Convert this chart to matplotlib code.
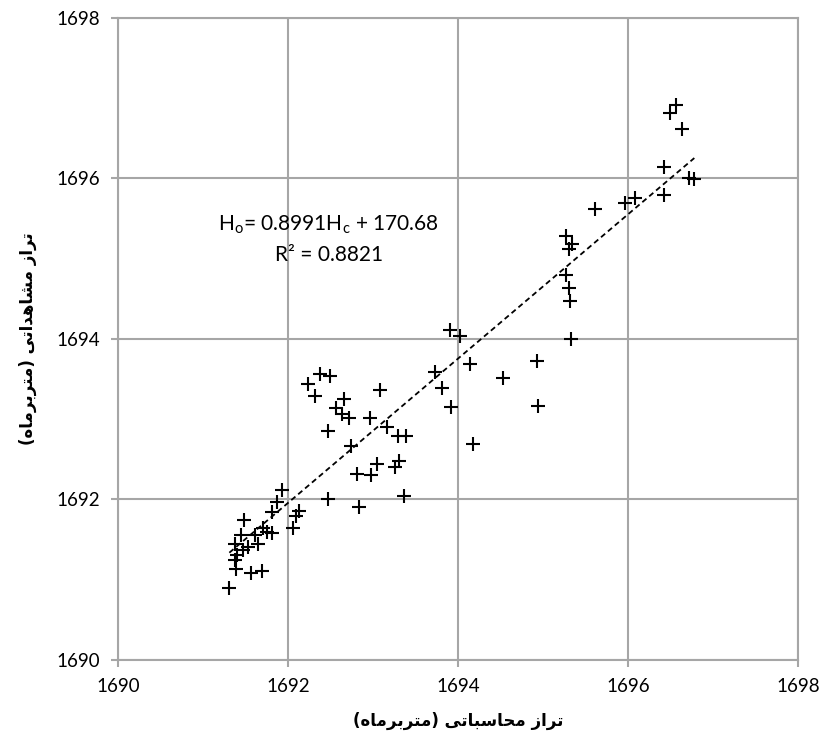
import matplotlib
matplotlib.use('Agg')
import matplotlib.pyplot as plt
import numpy as np

# ---------------- data ----------------
h_calc = [1691.93, 1691.87, 1692.47, 1691.81, 1692.13, 1692.10, 1692.06, 1691.48,
          1691.71, 1691.75, 1691.81, 1691.45, 1691.61, 1691.38, 1691.53, 1691.65,
          1691.47, 1691.40, 1691.38, 1691.39, 1691.57, 1691.70, 1691.31,
          1693.91, 1694.02, 1695.33, 1694.14, 1694.93, 1693.73, 1694.53, 1693.81,
          1694.94, 1693.92, 1694.18, 1692.38, 1692.49, 1692.24, 1692.32, 1693.08,
          1692.66, 1692.56, 1692.63, 1692.72, 1692.97, 1692.47, 1693.16, 1693.29,
          1693.39, 1692.74, 1693.05, 1693.30, 1693.26, 1692.81, 1692.98, 1693.36,
          1692.83,
          1696.56, 1696.49, 1696.63, 1696.42, 1696.72, 1696.78, 1696.42, 1696.08,
          1695.96, 1695.61, 1695.27, 1695.34, 1695.31, 1695.27, 1695.31, 1695.32]
h_obs = [1692.12, 1691.97, 1692.01, 1691.84, 1691.86, 1691.79, 1691.64, 1691.75,
         1691.64, 1691.60, 1691.58, 1691.56, 1691.56, 1691.45, 1691.41, 1691.45,
         1691.37, 1691.31, 1691.25, 1691.13, 1691.09, 1691.11, 1690.90,
         1694.11, 1694.04, 1694.00, 1693.69, 1693.73, 1693.59, 1693.52, 1693.39,
         1693.16, 1693.15, 1692.69, 1693.56, 1693.54, 1693.44, 1693.29, 1693.36,
         1693.25, 1693.14, 1693.07, 1693.02, 1693.02, 1692.85, 1692.90, 1692.79,
         1692.79, 1692.67, 1692.44, 1692.48, 1692.40, 1692.32, 1692.30, 1692.04,
         1691.91,
         1696.92, 1696.81, 1696.62, 1696.14, 1696.01, 1695.99, 1695.79, 1695.76,
         1695.69, 1695.62, 1695.28, 1695.18, 1695.12, 1694.80, 1694.64, 1694.47]

slope = 0.8991
intercept = 170.68
r2 = 0.8821
ticks = [1690, 1692, 1694, 1696, 1698]

xlabel_fa = 'تراز محاسباتی (متربرماه)'
ylabel_fa = 'تراز مشاهداتی (متربرماه)'

# ---------- small persian shaper (matplotlib has no RTL shaping) ----------
# forms: isolated, final, initial, medial
FORMS = {
    'ا': ('\uFE8D', '\uFE8E', None, None),
    'ب': ('\uFE8F', '\uFE90', '\uFE91', '\uFE92'),
    'ت': ('\uFE95', '\uFE96', '\uFE97', '\uFE98'),
    'ح': ('\uFEA1', '\uFEA2', '\uFEA3', '\uFEA4'),
    'د': ('\uFEA9', '\uFEAA', None, None),
    'ر': ('\uFEAD', '\uFEAE', None, None),
    'ز': ('\uFEAF', '\uFEB0', None, None),
    'س': ('\uFEB1', '\uFEB2', '\uFEB3', '\uFEB4'),
    'ش': ('\uFEB5', '\uFEB6', '\uFEB7', '\uFEB8'),
    'م': ('\uFEE1', '\uFEE2', '\uFEE3', '\uFEE4'),
    'ه': ('\uFEE9', '\uFEEA', '\uFEEB', '\uFEEC'),
    'ی': ('\uFEEF', '\uFEF0', '\uFEF3', '\uFEF4'),
}


def shape_fa(s):
    out = []
    for i, ch in enumerate(s):
        if ch not in FORMS:
            out.append(ch)
            continue
        prev = s[i - 1] if i > 0 else ''
        nxt = s[i + 1] if i + 1 < len(s) else ''
        join_prev = prev in FORMS and FORMS[prev][2] is not None
        join_next = FORMS[ch][2] is not None and nxt in FORMS
        f = FORMS[ch]
        if join_prev and join_next:
            out.append(f[3])
        elif join_prev:
            out.append(f[1])
        elif join_next:
            out.append(f[2])
        else:
            out.append(f[0])
    vis = ''.join(reversed(out))
    return vis.translate(str.maketrans('()', ')('))


plt.rcParams['font.family'] = ['Lato', 'DejaVu Sans']

fig = plt.figure(figsize=(8.28, 7.47), dpi=100)
ax = fig.add_axes([0.1425, 0.1165, 0.8213, 0.8594])

grid_c = '#a6a6a6'
ax.plot(h_calc, h_obs, linestyle='none', marker='+', color='black',
        markersize=10, markeredgewidth=1.5, zorder=3)

xl = np.array([min(h_calc), max(h_calc)])
ax.plot(xl, slope * xl + intercept, color='black', linestyle=(0, (3, 2)),
        linewidth=1.3, zorder=2)

ax.set_xlim(1690, 1698)
ax.set_ylim(1690, 1698)
ax.set_xticks(ticks)
ax.set_yticks(ticks)
ax.grid(True, color=grid_c, linewidth=1.5)
for sp in ax.spines.values():
    sp.set_color(grid_c)
    sp.set_linewidth(1.5)
ax.tick_params(direction='out', length=5, width=1.5, color=grid_c,
               labelsize=13.5, pad=8)

ax.text(1692.48, 1695.42, r'H$_\mathregular{o}$= %.4fH$_\mathregular{c}$ + %.2f' % (slope, intercept),
        ha='center', va='center', fontsize=15)
ax.text(1692.48, 1695.05, 'R² = %.4f' % r2, ha='center', va='center', fontsize=15)

ax.set_xlabel(shape_fa(xlabel_fa), family='DejaVu Sans', fontweight='bold',
              fontsize=12, labelpad=12)
ax.set_ylabel(shape_fa(ylabel_fa), family='DejaVu Sans', fontweight='bold',
              fontsize=12, labelpad=14)

fig.savefig('out.png', dpi=100)
